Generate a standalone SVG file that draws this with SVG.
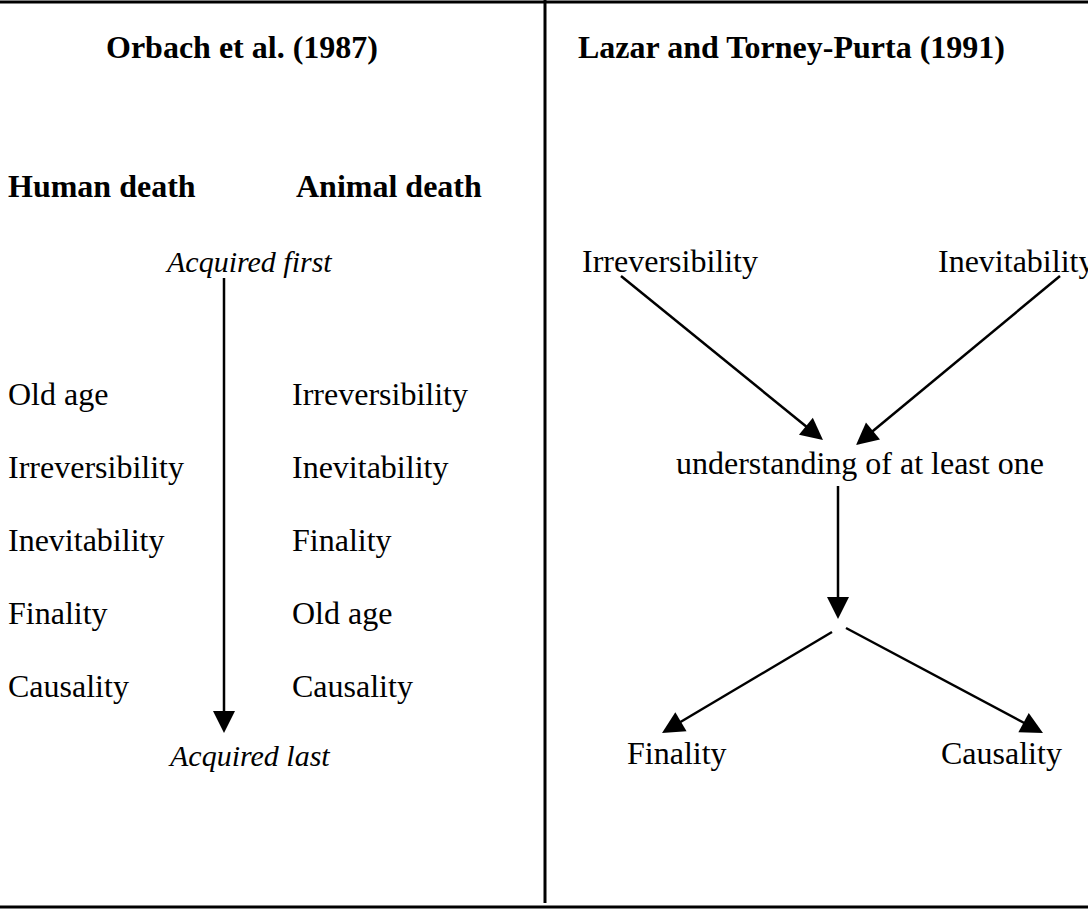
<svg xmlns="http://www.w3.org/2000/svg" width="1088" height="910" viewBox="0 0 1088 910">
<defs>
<style>
text{font-family:"Liberation Serif","Times New Roman",serif;font-size:32px;fill:#000}
.b{font-weight:bold}
.i{font-style:italic;font-size:30px}
.rule{stroke:#000;stroke-width:3;fill:none}
.conn{stroke:#000;stroke-width:2.5;fill:none;marker-end:url(#ah)}
</style>
<marker id="ah" markerUnits="userSpaceOnUse" markerWidth="24" markerHeight="22" refX="4" refY="11" orient="auto" overflow="visible">
<path d="M0,0 L22,11 L0,22 z" fill="#000"/>
</marker>
</defs>
<rect width="1088" height="910" fill="#fff"/>
<g id="frame">
<line class="rule" x1="0" y1="2" x2="1088" y2="2"/>
<line class="rule" x1="0" y1="907" x2="1088" y2="907"/>
<line class="rule" x1="545" y1="0" x2="545" y2="903"/>
</g>
<g id="left-panel">
<g id="title-left"><text class="b" x="106" y="58">Orbach et al. (1987)</text></g>
<g id="human-death"><text class="b" x="8" y="197">Human death</text></g>
<g id="animal-death"><text class="b" x="296" y="197">Animal death</text></g>
<g id="acquired-first"><text class="i" x="167" y="272">Acquired first</text></g>
<g id="human-list">
<text x="8" y="405">Old age</text>
<text x="8" y="478">Irreversibility</text>
<text x="8" y="551">Inevitability</text>
<text x="8" y="624">Finality</text>
<text x="8" y="697">Causality</text>
</g>
<g id="animal-list">
<text x="292" y="405">Irreversibility</text>
<text x="292" y="478">Inevitability</text>
<text x="292" y="551">Finality</text>
<text x="292" y="624">Old age</text>
<text x="292" y="697">Causality</text>
</g>
<g id="acquired-last"><text class="i" x="170" y="766">Acquired last</text></g>
</g>
<g id="right-panel">
<g id="title-right"><text class="b" x="578" y="58">Lazar and Torney-Purta (1991)</text></g>
<g id="r-irreversibility"><text x="582" y="272">Irreversibility</text></g>
<g id="r-inevitability"><text x="938" y="272">Inevitability</text></g>
<g id="r-understanding"><text x="676" y="474">understanding of at least one</text></g>
<g id="r-finality"><text x="627" y="764">Finality</text></g>
<g id="r-causality"><text x="941" y="764">Causality</text></g>
</g>
<g id="connectors">
<line class="conn" x1="224" y1="278" x2="224" y2="715"/>
<line class="conn" x1="621" y1="276" x2="809" y2="428.7"/>
<line class="conn" x1="1060" y1="276" x2="869.9" y2="433.5"/>
<line class="conn" x1="838" y1="486" x2="838" y2="601"/>
<line class="conn" x1="832" y1="632" x2="677.5" y2="723.8"/>
<line class="conn" x1="846" y1="628" x2="1027.1" y2="724.5"/>
</g>
</svg>
